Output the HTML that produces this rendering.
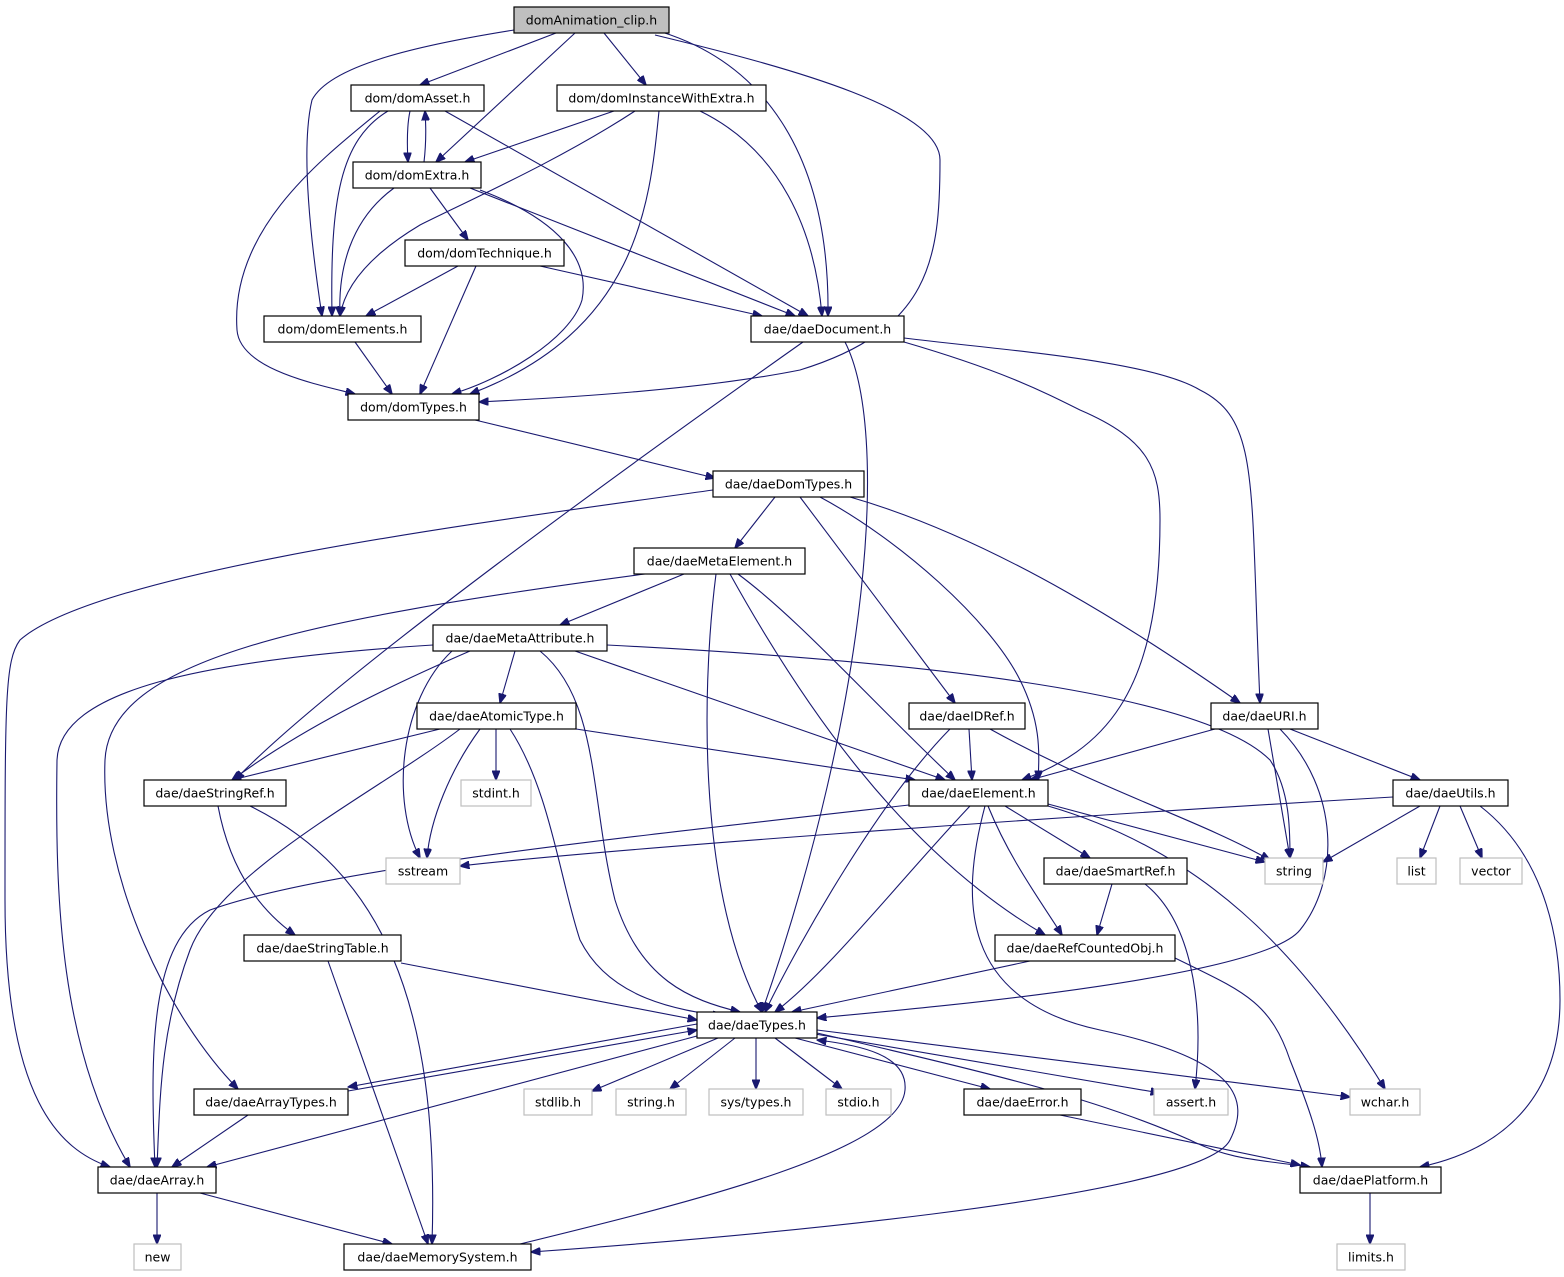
<!DOCTYPE html>
<html><head><meta charset="utf-8"><style>
html,body{margin:0;padding:0;background:#fff;}
svg{display:block;}
text{font-family:"DejaVu Sans","Liberation Sans",sans-serif;font-size:12.5px;fill:#000;}
.e{fill:none;stroke:#191970;stroke-width:1.1;marker-end:url(#a);}
.n{fill:#fff;stroke:#000;stroke-width:1.2;}
.g{fill:#fff;stroke:#bfbfbf;stroke-width:1.2;}
</style></head><body>
<svg width="1564" height="1277" viewBox="0 0 1564 1277" xmlns="http://www.w3.org/2000/svg">
<defs><marker id="a" markerWidth="10" markerHeight="8" refX="9.5" refY="4" orient="auto" markerUnits="userSpaceOnUse"><path d="M0,0 L10,4 L0,8 Z" fill="#191970" stroke="#191970"/></marker></defs>
<g>
<!-- clip -->
<path class="e" d="M556,33 L420,85"/>
<path class="e" d="M575,33 L436,162"/>
<path class="e" d="M604,33 L646,85"/>
<path class="e" d="M514,30 C420,45 330,65 312,100 C300,150 312,250 322,316"/>
<path class="e" d="M655,30 C760,60 830,150 828,316"/>
<path class="e" d="M655,35 C800,70 940,110 940,160 C940,260 930,330 800,370 C700,390 560,398 479,402"/>
<!-- domAsset -->
<path class="e" d="M410,111 C407,125 407,145 408,162"/>
<path class="e" d="M424,162 C426,145 426,125 425,111"/>
<path class="e" d="M388,111 C340,140 330,200 332,316"/>
<path class="e" d="M380,111 C320,160 230,230 237,330 C240,370 320,385 355,394"/>
<path class="e" d="M445,111 L808,316"/>
<!-- domInstanceWithExtra -->
<path class="e" d="M614,111 L465,162"/>
<path class="e" d="M635,111 C560,160 470,200 420,225 C370,255 345,285 340,316"/>
<path class="e" d="M700,111 C780,150 815,230 822,316"/>
<path class="e" d="M659,111 C650,200 640,330 470,394"/>
<!-- domExtra -->
<path class="e" d="M430,188 L468,240"/>
<path class="e" d="M394,188 C350,220 338,270 340,316"/>
<path class="e" d="M470,188 L795,316"/>
<path class="e" d="M480,190 C560,220 590,260 582,300 C570,340 500,380 452,394"/>
<!-- domTechnique -->
<path class="e" d="M458,266 L366,316"/>
<path class="e" d="M476,266 L420,394"/>
<path class="e" d="M540,266 L762,316"/>
<path class="e" d="M355,342 L392,394"/>
<path class="e" d="M475,420 L715,478"/>
<!-- daeDocument -->
<path class="e" d="M803,342 C650,450 330,680 235,780"/>
<path class="e" d="M845,342 C890,430 870,700 762,1012"/>
<path class="e" d="M904,342 C1000,370 1040,390 1080,410 C1150,440 1160,470 1160,520 C1160,700 1100,750 1022,780"/>
<path class="e" d="M904,338 C1000,350 1150,360 1200,390 C1260,420 1250,480 1260,703"/>
<!-- daeDomTypes -->
<path class="e" d="M713,490 C500,520 100,570 20,640 C5,660 5,700 5,900 C5,1100 60,1150 110,1167"/>
<path class="e" d="M775,497 L735,548"/>
<path class="e" d="M800,497 L955,703"/>
<path class="e" d="M820,497 C900,540 990,620 1020,680 C1040,720 1040,750 1038,780"/>
<path class="e" d="M850,497 C1000,540 1150,640 1240,703"/>
<!-- daeMetaElement -->
<path class="e" d="M684,574 L560,625"/>
<path class="e" d="M645,574 C300,620 110,660 105,760 C100,880 170,1020 238,1089"/>
<path class="e" d="M716,574 C700,700 700,900 762,1012"/>
<path class="e" d="M730,574 C800,700 900,850 1045,935"/>
<path class="e" d="M738,574 C800,620 870,700 955,780"/>
<!-- daeMetaAttribute -->
<path class="e" d="M433,645 C200,660 60,690 57,760 C55,900 60,1050 130,1167"/>
<path class="e" d="M470,651 C380,690 300,730 232,780"/>
<path class="e" d="M452,651 C400,700 390,800 420,858"/>
<path class="e" d="M515,651 L500,703"/>
<path class="e" d="M540,651 C600,700 590,800 615,900 C640,980 690,1000 740,1012"/>
<path class="e" d="M575,651 L945,780"/>
<path class="e" d="M607,645 C900,660 1200,690 1270,760 C1290,790 1290,830 1290,858"/>
<!-- daeAtomicType -->
<path class="e" d="M440,729 L232,780"/>
<path class="e" d="M460,729 C380,790 220,870 190,950 C160,1030 160,1100 157,1167"/>
<path class="e" d="M480,729 C450,770 430,820 427,858"/>
<path class="e" d="M496,729 L496,780"/>
<path class="e" d="M510,729 C550,790 560,880 580,940 C610,1000 680,1010 722,1016"/>
<path class="e" d="M576,729 L915,780"/>
<!-- daeIDRef -->
<path class="e" d="M969,729 L972,780"/>
<path class="e" d="M950,729 C880,800 800,940 765,1012"/>
<path class="e" d="M990,729 C1100,790 1200,820 1270,860"/>
<!-- daeURI -->
<path class="e" d="M1215,729 L1030,780"/>
<path class="e" d="M1268,729 L1290,858"/>
<path class="e" d="M1290,729 L1420,780"/>
<path class="e" d="M1280,729 C1340,790 1340,880 1300,930 C1260,980 900,1010 817,1018"/>
<!-- daeStringRef -->
<path class="e" d="M218,806 C230,870 260,910 295,935"/>
<path class="e" d="M250,806 C380,870 440,1000 432,1244"/>
<!-- daeElement -->
<path class="e" d="M909,805 C600,840 320,870 210,910 C150,940 150,1050 155,1167"/>
<path class="e" d="M1005,806 L1090,858"/>
<path class="e" d="M988,806 C1010,860 1040,900 1062,935"/>
<path class="e" d="M970,806 C900,880 830,970 775,1012"/>
<path class="e" d="M985,806 C960,900 960,1000 1100,1030 C1240,1060 1250,1100 1230,1140 C1200,1200 700,1240 531,1252"/>
<path class="e" d="M1048,804 L1265,862"/>
<path class="e" d="M1048,806 C1200,850 1300,950 1385,1089"/>
<!-- daeUtils -->
<path class="e" d="M1393,797 C1000,820 600,850 460,866"/>
<path class="e" d="M1420,806 L1323,862"/>
<path class="e" d="M1440,806 L1420,858"/>
<path class="e" d="M1460,806 L1482,858"/>
<path class="e" d="M1480,806 C1550,860 1560,950 1560,1000 C1560,1100 1500,1150 1420,1167"/>
<!-- daeSmartRef -->
<path class="e" d="M1112,884 L1097,935"/>
<path class="e" d="M1145,884 C1190,920 1205,1000 1195,1089"/>
<!-- daeRefCountedObj -->
<path class="e" d="M1030,961 L792,1012"/>
<path class="e" d="M1175,958 C1240,990 1270,1000 1290,1060 C1310,1110 1320,1140 1322,1167"/>
<!-- daeStringTable -->
<path class="e" d="M401,963 L697,1020"/>
<path class="e" d="M328,961 L428,1244"/>
<!-- daeTypes -->
<path class="e" d="M697,1024 L348,1087"/>
<path class="e" d="M348,1091 L697,1030"/>
<path class="e" d="M697,1036 L207,1167"/>
<path class="e" d="M718,1038 L592,1091"/>
<path class="e" d="M735,1038 L670,1089"/>
<path class="e" d="M756,1038 L756,1089"/>
<path class="e" d="M775,1038 L842,1089"/>
<path class="e" d="M795,1038 L990,1089"/>
<path class="e" d="M815,1034 L1160,1093"/>
<path class="e" d="M817,1030 L1350,1097"/>
<path class="e" d="M817,1033 C1000,1075 1100,1100 1190,1140 C1230,1160 1260,1160 1310,1167"/>
<path class="e" d="M520,1244 C700,1200 900,1150 905,1090 C908,1055 860,1045 817,1040"/>
<path class="e" d="M248,1115 L172,1167"/>
<path class="e" d="M1060,1115 L1300,1165"/>
<path class="e" d="M157,1193 L157,1244"/>
<path class="e" d="M200,1193 L392,1244"/>
<path class="e" d="M1370,1193 L1370,1244"/>
</g>
<g>
<rect x="514" y="7" width="155" height="26" fill="#bfbfbf" stroke="#000" stroke-width="1.2"/><text x="591.5" y="24.5" text-anchor="middle">domAnimation_clip.h</text>
<rect class="n" x="351" y="85" width="133" height="26"/><text x="417.5" y="102.5" text-anchor="middle">dom/domAsset.h</text>
<rect class="n" x="557" y="85" width="209" height="26"/><text x="661.5" y="102.5" text-anchor="middle">dom/domInstanceWithExtra.h</text>
<rect class="n" x="353" y="162" width="128" height="26"/><text x="417" y="179.5" text-anchor="middle">dom/domExtra.h</text>
<rect class="n" x="405" y="240" width="159" height="26"/><text x="484.5" y="257.5" text-anchor="middle">dom/domTechnique.h</text>
<rect class="n" x="264" y="316" width="157" height="26"/><text x="342.5" y="333.5" text-anchor="middle">dom/domElements.h</text>
<rect class="n" x="751" y="316" width="153" height="26"/><text x="827.5" y="333.5" text-anchor="middle">dae/daeDocument.h</text>
<rect class="n" x="348" y="394" width="131" height="26"/><text x="413.5" y="411.5" text-anchor="middle">dom/domTypes.h</text>
<rect class="n" x="713" y="471" width="151" height="26"/><text x="788.5" y="488.5" text-anchor="middle">dae/daeDomTypes.h</text>
<rect class="n" x="634" y="548" width="171" height="26"/><text x="719.5" y="565.5" text-anchor="middle">dae/daeMetaElement.h</text>
<rect class="n" x="433" y="625" width="174" height="26"/><text x="520" y="642.5" text-anchor="middle">dae/daeMetaAttribute.h</text>
<rect class="n" x="417" y="703" width="159" height="26"/><text x="496.5" y="720.5" text-anchor="middle">dae/daeAtomicType.h</text>
<rect class="n" x="909" y="703" width="116" height="26"/><text x="967" y="720.5" text-anchor="middle">dae/daeIDRef.h</text>
<rect class="n" x="1211" y="703" width="107" height="26"/><text x="1264.5" y="720.5" text-anchor="middle">dae/daeURI.h</text>
<rect class="n" x="144" y="780" width="142" height="26"/><text x="215" y="797.5" text-anchor="middle">dae/daeStringRef.h</text>
<rect class="g" x="461" y="780" width="70" height="26"/><text x="496" y="797.5" text-anchor="middle">stdint.h</text>
<rect class="n" x="909" y="780" width="139" height="26"/><text x="978.5" y="797.5" text-anchor="middle">dae/daeElement.h</text>
<rect class="n" x="1393" y="780" width="115" height="26"/><text x="1450.5" y="797.5" text-anchor="middle">dae/daeUtils.h</text>
<rect class="g" x="386" y="858" width="74" height="26"/><text x="423" y="875.5" text-anchor="middle">sstream</text>
<rect class="n" x="1044" y="858" width="143" height="26"/><text x="1115.5" y="875.5" text-anchor="middle">dae/daeSmartRef.h</text>
<rect class="g" x="1265" y="858" width="58" height="26"/><text x="1294" y="875.5" text-anchor="middle">string</text>
<rect class="g" x="1397" y="858" width="39" height="26"/><text x="1416.5" y="875.5" text-anchor="middle">list</text>
<rect class="g" x="1460" y="858" width="62" height="26"/><text x="1491" y="875.5" text-anchor="middle">vector</text>
<rect class="n" x="244" y="935" width="157" height="26"/><text x="322.5" y="952.5" text-anchor="middle">dae/daeStringTable.h</text>
<rect class="n" x="995" y="935" width="180" height="26"/><text x="1085" y="952.5" text-anchor="middle">dae/daeRefCountedObj.h</text>
<rect class="n" x="697" y="1012" width="120" height="26"/><text x="757" y="1029.5" text-anchor="middle">dae/daeTypes.h</text>
<rect class="n" x="194" y="1089" width="154" height="26"/><text x="271" y="1106.5" text-anchor="middle">dae/daeArrayTypes.h</text>
<rect class="g" x="524" y="1089" width="68" height="26"/><text x="558" y="1106.5" text-anchor="middle">stdlib.h</text>
<rect class="g" x="616" y="1089" width="70" height="26"/><text x="651" y="1106.5" text-anchor="middle">string.h</text>
<rect class="g" x="709" y="1089" width="94" height="26"/><text x="756" y="1106.5" text-anchor="middle">sys/types.h</text>
<rect class="g" x="826" y="1089" width="65" height="26"/><text x="858.5" y="1106.5" text-anchor="middle">stdio.h</text>
<rect class="n" x="964" y="1089" width="117" height="26"/><text x="1022.5" y="1106.5" text-anchor="middle">dae/daeError.h</text>
<rect class="g" x="1154" y="1089" width="74" height="26"/><text x="1191" y="1106.5" text-anchor="middle">assert.h</text>
<rect class="g" x="1350" y="1089" width="70" height="26"/><text x="1385" y="1106.5" text-anchor="middle">wchar.h</text>
<rect class="n" x="98" y="1167" width="118" height="26"/><text x="157" y="1184.5" text-anchor="middle">dae/daeArray.h</text>
<rect class="n" x="1300" y="1167" width="141" height="26"/><text x="1370.5" y="1184.5" text-anchor="middle">dae/daePlatform.h</text>
<rect class="g" x="134" y="1244" width="47" height="26"/><text x="157.5" y="1261.5" text-anchor="middle">new</text>
<rect class="n" x="344" y="1244" width="187" height="26"/><text x="437.5" y="1261.5" text-anchor="middle">dae/daeMemorySystem.h</text>
<rect class="g" x="1337" y="1244" width="68" height="26"/><text x="1371" y="1261.5" text-anchor="middle">limits.h</text>
</g>
</svg>
</body></html>
